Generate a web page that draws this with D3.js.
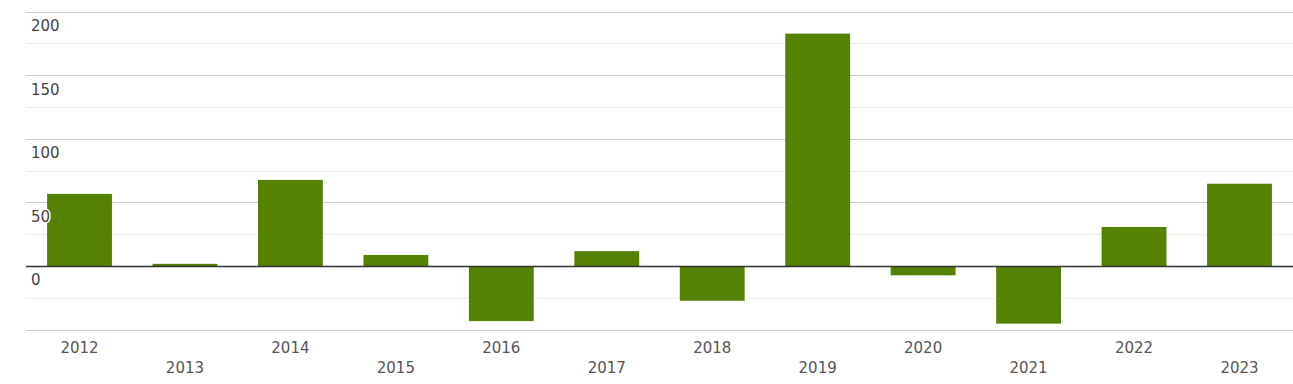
<!DOCTYPE html>
<html><head><meta charset="utf-8">
<script src="https://cdn.jsdelivr.net/npm/d3@7"></script>
<style>body{margin:0;background:#fff}svg{display:block}</style>
</head><body>
<script>
const years = ["2012","2013","2014","2015","2016","2017","2018","2019","2020","2021","2022","2023"];
const values = [57, 2, 68, 9, -43, 12, -27, 183, -7, -45, 31, 65];
const majorTicks = [200, 150, 100, 50, 0, -50];
const minorTicks = [175, 125, 75, 25, -25];
const tickLabels = ["200","150","100","50","0"];

const W = 1293, H = 384;
const svg = d3.select("body").append("svg").attr("width", W).attr("height", H);
const left = 26, right = 1293;
const x = d3.scaleBand().domain(years).range([left, right]).paddingInner(0.385).paddingOuter(0.2);
const y = d3.scaleLinear().domain([-50, 200]).range([330, 12]);

svg.append("g").selectAll("line").data(minorTicks).join("line")
  .attr("x1", left).attr("x2", right)
  .attr("y1", d => Math.floor(y(d)) + 0.5).attr("y2", d => Math.floor(y(d)) + 0.5)
  .attr("stroke", "#ebebeb").attr("stroke-width", 1);
svg.append("g").selectAll("line").data(majorTicks.filter(d => d !== 0)).join("line")
  .attr("x1", left).attr("x2", right)
  .attr("y1", d => Math.floor(y(d)) + 0.5).attr("y2", d => Math.floor(y(d)) + 0.5)
  .attr("stroke", "#cccccc").attr("stroke-width", 1);

svg.append("g").selectAll("rect").data(values).join("rect")
  .attr("x", (d, i) => x(years[i]))
  .attr("width", x.bandwidth())
  .attr("y", d => y(Math.max(0, d)))
  .attr("height", d => Math.abs(y(d) - y(0)))
  .attr("fill", "#568203");

svg.append("line").attr("x1", left).attr("x2", right)
  .attr("y1", y(0)).attr("y2", y(0))
  .attr("stroke", "#333").attr("stroke-width", 1.5);

svg.append("g").selectAll("text").data(tickLabels).join("text")
  .attr("x", 31).attr("y", d => y(+d) + 19)
  .attr("font-family", "DejaVu Sans").attr("font-size", 15)
  .attr("fill", "#444")
  .attr("stroke", "#fff").attr("stroke-width", 3).attr("paint-order", "stroke")
  .text(d => d);

svg.append("g").selectAll("text").data(years).join("text")
  .attr("x", d => x(d) + x.bandwidth() / 2)
  .attr("y", (d, i) => i % 2 === 0 ? 353 : 373)
  .attr("text-anchor", "middle")
  .attr("font-family", "DejaVu Sans").attr("font-size", 15)
  .attr("fill", "#555")
  .text(d => d);
</script>
</body></html>
